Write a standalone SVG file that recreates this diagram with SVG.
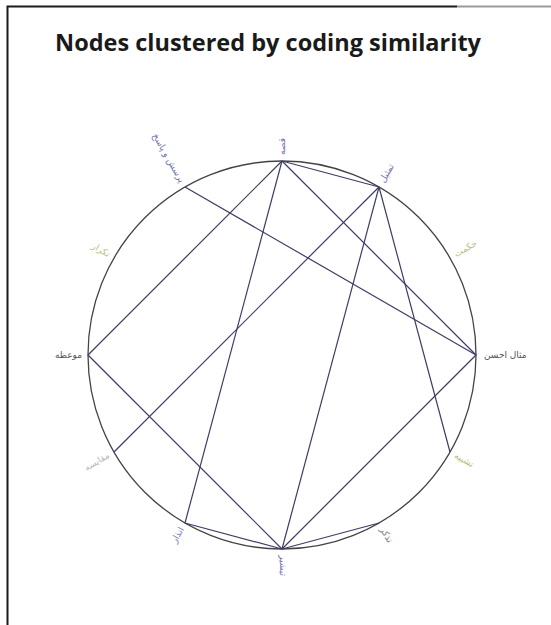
<svg xmlns="http://www.w3.org/2000/svg" width="551" height="625" viewBox="0 0 551 625">
<style>
.title{font-family:"Open Sans","Liberation Sans",sans-serif;font-weight:bold;font-size:23.5px;fill:#1a1a1a}
.lbl{font-family:"DejaVu Sans","Noto Sans",sans-serif;font-size:9px;dominant-baseline:middle}
.s{text-anchor:start}.e{text-anchor:end}
.blue{fill:#6f6fae}.gray{fill:#555}.yel{fill:#b3c07a}.lg{fill:#b8b8b8}.mg{fill:#7a7a7a}
.edge{stroke:#3d3d66;stroke-width:1.2;fill:none}
.ring{stroke:#444;stroke-width:1.3;fill:none}
</style>
<rect width="551" height="625" fill="#fff"/>
<path d="M7.5,625 V6.5 H457" stroke="#1a1a1a" stroke-width="2" fill="none"/>
<path d="M457,6.5 H551" stroke="#999" stroke-width="2" fill="none"/>
<text class="title" x="268" y="51" text-anchor="middle">Nodes clustered by coding similarity</text>
<circle class="ring" cx="282" cy="355" r="194"/>
<g id="edges">
<line class="edge" x1="282" y1="161" x2="379" y2="187"/>
<line class="edge" x1="282" y1="161" x2="185" y2="523"/>
<line class="edge" x1="282" y1="161" x2="88" y2="355"/>
<line class="edge" x1="282" y1="161" x2="476" y2="355"/>
<line class="edge" x1="379" y1="187" x2="282" y2="549"/>
<line class="edge" x1="379" y1="187" x2="114" y2="452"/>
<line class="edge" x1="379" y1="187" x2="450" y2="452"/>
<line class="edge" x1="185" y1="187" x2="476" y2="355"/>
<line class="edge" x1="88" y1="355" x2="282" y2="549"/>
<line class="edge" x1="476" y1="355" x2="282" y2="549"/>
<line class="edge" x1="282" y1="549" x2="185" y2="523"/>
<line class="edge" x1="282" y1="549" x2="379" y2="523"/>
</g>
<g id="n90"><text class="lbl s blue" transform="translate(282,155) rotate(-90)">قصه</text></g>
<g id="n60"><text class="lbl s blue" transform="translate(382,182) rotate(-60)">تمثیل</text></g>
<g id="n30"><text class="lbl s yel" transform="translate(455,255) rotate(-30)">حکمت</text></g>
<g id="n0"><text class="lbl s gray" transform="translate(484,355)">مثال احسن</text></g>
<g id="n330"><text class="lbl s yel" transform="translate(455,455) rotate(30)">تشبیه</text></g>
<g id="n300"><text class="lbl s mg" transform="translate(382,528) rotate(60)">تذکر</text></g>
<g id="n270"><text class="lbl s blue" transform="translate(282,555) rotate(90)">تبشیر</text></g>
<g id="n240"><text class="lbl e blue" transform="translate(182,528) rotate(-60)">انذار</text></g>
<g id="n210"><text class="lbl e lg" transform="translate(109,455) rotate(-30)">مقایسه</text></g>
<g id="n180"><text class="lbl e gray" transform="translate(82,355)">موعظه</text></g>
<g id="n150"><text class="lbl e yel" transform="translate(109,255) rotate(30)">تکرار</text></g>
<g id="n120"><text class="lbl e blue" transform="translate(182,182) rotate(60)">پرسش و پاسخ</text></g>
</svg>
